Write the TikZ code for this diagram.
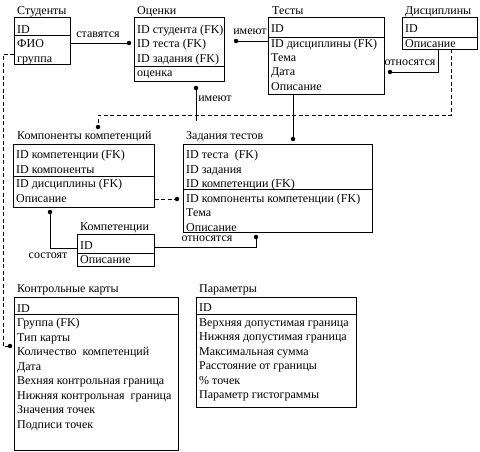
\documentclass[tikz,border=0pt]{standalone}
\usepackage{fontspec}
\setmainfont{Liberation Serif}
\newcommand\fs{\fontsize{12}{14}\selectfont}
\begin{document}
\begin{tikzpicture}[x=1pt,y=-1pt,
  box/.style={draw, line width=0.8pt, anchor=north west, inner sep=0pt, minimum width=#1},
  rw/.style={anchor=base west, inner sep=0pt, font=\fs},
  lbl/.style={inner sep=0pt, font=\fs},
  dot/.style={circle, fill, inner sep=0pt, minimum size=4.5pt},
  conn/.style={line width=0.8pt},
  dconn/.style={line width=0.8pt, dash pattern=on 4pt off 2.5pt}]
\useasboundingbox (0,0) rectangle (480,451);
\fill[white] (0,0) rectangle (480,451);

% ---------- Студенты
\node[rw] (stT) at (17,14) {Студенты};
\node[box=56pt, minimum height=18pt] (st1) at (14,17) {};
\node[box=56pt, minimum height=29pt] (st2) at (14,35) {};
\node[rw] (st-a) at (17,33) {ID};
\node[rw] (st-b) at (17,47) {ФИО};
\node[rw] (st-c) at (17,62) {группа};

% ---------- Оценки
\node[rw] (ocT) at (137,14) {Оценки};
\node[box=90pt, minimum height=49pt] (oc1) at (134,17) {};
\node[box=90pt, minimum height=15pt] (oc2) at (134,66) {};
\node[rw] (oc-a) at (137,33) {ID студента (FK)};
\node[rw] (oc-b) at (137,47) {ID теста (FK)};
\node[rw] (oc-c) at (137,62) {ID задания (FK)};
\node[rw] (oc-d) at (137,76) {оценка};

% ---------- Тесты
\node[rw] (teT) at (272,14) {Тесты};
\node[box=116pt, minimum height=20pt] (te1) at (268,17) {};
\node[box=116pt, minimum height=57pt] (te2) at (268,37) {};
\node[rw] (te-a) at (271,32) {ID};
\node[rw] (te-b) at (271,47) {ID дисциплины (FK)};
\node[rw] (te-c) at (271,61) {Тема};
\node[rw] (te-d) at (271,75) {Дата};
\node[rw] (te-e) at (271,90) {Описание};

% ---------- Дисциплины
\node[rw] (diT) at (405,14) {Дисциплины};
\node[box=75pt, minimum height=20pt] (di1) at (402,17) {};
\node[box=75pt, minimum height=12pt] (di2) at (402,37) {};
\node[rw] (di-a) at (405,32) {ID};
\node[rw] (di-b) at (405,47) {Описание};

% ---------- Компоненты компетенций
\node[rw] (kkT) at (17,139) {Компоненты компетенций};
\node[box=141pt, minimum height=32pt] (kk1) at (13,144) {};
\node[box=141pt, minimum height=31pt] (kk2) at (13,176) {};
\node[rw] (kk-a) at (16,158) {ID компетенции (FK)};
\node[rw] (kk-b) at (16,173) {ID компоненты};
\node[rw] (kk-c) at (16,187) {ID дисциплины (FK)};
\node[rw] (kk-d) at (16,202) {Описание};

% ---------- Задания тестов
\node[rw] (ztT) at (186,139) {Задания тестов};
\node[box=189pt, minimum height=45pt] (zt1) at (183,144) {};
\node[box=189pt, minimum height=43pt] (zt2) at (183,189) {};
\node[rw] (zt-a) at (186,158) {ID теста~ (FK)};
\node[rw] (zt-b) at (186,173) {ID задания};
\node[rw] (zt-c) at (186,187) {ID компетенции (FK)};
\node[rw] (zt-d) at (186,202) {ID компоненты компетенции (FK)};
\node[rw] (zt-e) at (186,216) {Тема};
\node[rw] (zt-f) at (186,231) {Описание};

% ---------- Компетенции
\node[rw] (kmT) at (80,230) {Компетенции};
\node[box=77pt, minimum height=19pt] (km1) at (77,234) {};
\node[box=77pt, minimum height=13pt] (km2) at (77,253) {};
\node[rw] (km-a) at (80,249) {ID};
\node[rw] (km-b) at (80,263) {Описание};

% ---------- Контрольные карты
\node[rw] (ckT) at (17,292) {Контрольные карты};
\node[box=164pt, minimum height=17pt] (ck1) at (14,297) {};
\node[box=164pt, minimum height=136pt] (ck2) at (14,314) {};
\node[rw] (ck-a) at (17,312) {ID};
\node[rw] (ck-b) at (17,326) {Группа (FK)};
\node[rw] (ck-c) at (17,341) {Тип карты};
\node[rw] (ck-d) at (17,355) {Количество~ компетенций};
\node[rw] (ck-e) at (17,370) {Дата};
\node[rw] (ck-f) at (17,384) {Вехняя контрольная граница};
\node[rw] (ck-g) at (17,399) {Нижняя контрольная~ граница};
\node[rw] (ck-h) at (17,413) {Значения точек};
\node[rw] (ck-i) at (17,428) {Подписи точек};

% ---------- Параметры
\node[rw] (paT) at (199,292) {Параметры};
\node[box=160pt, minimum height=17pt] (pa1) at (196,297) {};
\node[box=160pt, minimum height=93pt] (pa2) at (196,314) {};
\node[rw] (pa-a) at (199,311) {ID};
\node[rw] (pa-b) at (199,326) {Верхняя допустимая граница};
\node[rw] (pa-c) at (199,340) {Нижняя допустимая граница};
\node[rw] (pa-d) at (199,355) {Максимальная сумма};
\node[rw] (pa-e) at (199,369) {Расстояние от границы};
\node[rw] (pa-f) at (199,384) {\% точек};
\node[rw] (pa-g) at (199,398) {Параметр гистограммы};

% ---------- connectors
% ставятся
\node[dot] (d1) at (129,43) {};
\draw[conn] (st2.east |- d1) -- (d1);
\node[lbl] (l1) at (98,35) {ставятся};

% имеют (Оценки - Тесты)
\node[dot] (d2) at (236,41) {};
\draw[conn] (d2) -- (te2.west |- d2);
\node[lbl] (l2) at (250,32) {имеют};

% относятся (Дисциплины - Тесты)
\node[dot] (d3) at (390,72) {};
\coordinate (c3) at (438,49);
\draw[conn] (c3) |- (d3);
\node[lbl] (l3) at (410,63) {относятся};

% dashed Дисциплины - Компоненты компетенций
\node[dot] (d4) at (98,127) {};
\coordinate (c4) at (451,49);
\draw[dconn] (c4) -- (451,115) -| (d4);

% Тесты - Задания тестов
\node[dot] (d5) at (293,139) {};
\coordinate (c5) at (293,94);
\draw[conn] (c5) -- (d5);

% имеют (Оценки - Задания)
\node[dot] (d6) at (196,88) {};
\coordinate (c6) at (196,121);
\draw[conn] (d6) -- (c6);
\node[lbl] (l6) at (215,99) {имеют};

% состоят
\node[dot] (d7) at (50,212) {};
\draw[conn] (d7) |- (km1.west |- 0,248);
\node[lbl] (l7) at (48,256) {состоят};

% dashed Компоненты - Задания
\node[dot] (d8) at (177,199) {};
\draw[dconn] (kk2.east |- d8) -- (d8);

% относятся (Компетенции - Задания)
\node[dot] (d9) at (256,237) {};
\draw[conn] (km1.east |- 0,247) -| (d9);
\node[lbl] (l9) at (207,239) {относятся};

% dashed Студенты - Контрольные карты
\node[dot] (d10) at (10,346) {};
\draw[dconn] (st2.west |- 0,54) -- (3,54) |- (d10);
\end{tikzpicture}
\end{document}
